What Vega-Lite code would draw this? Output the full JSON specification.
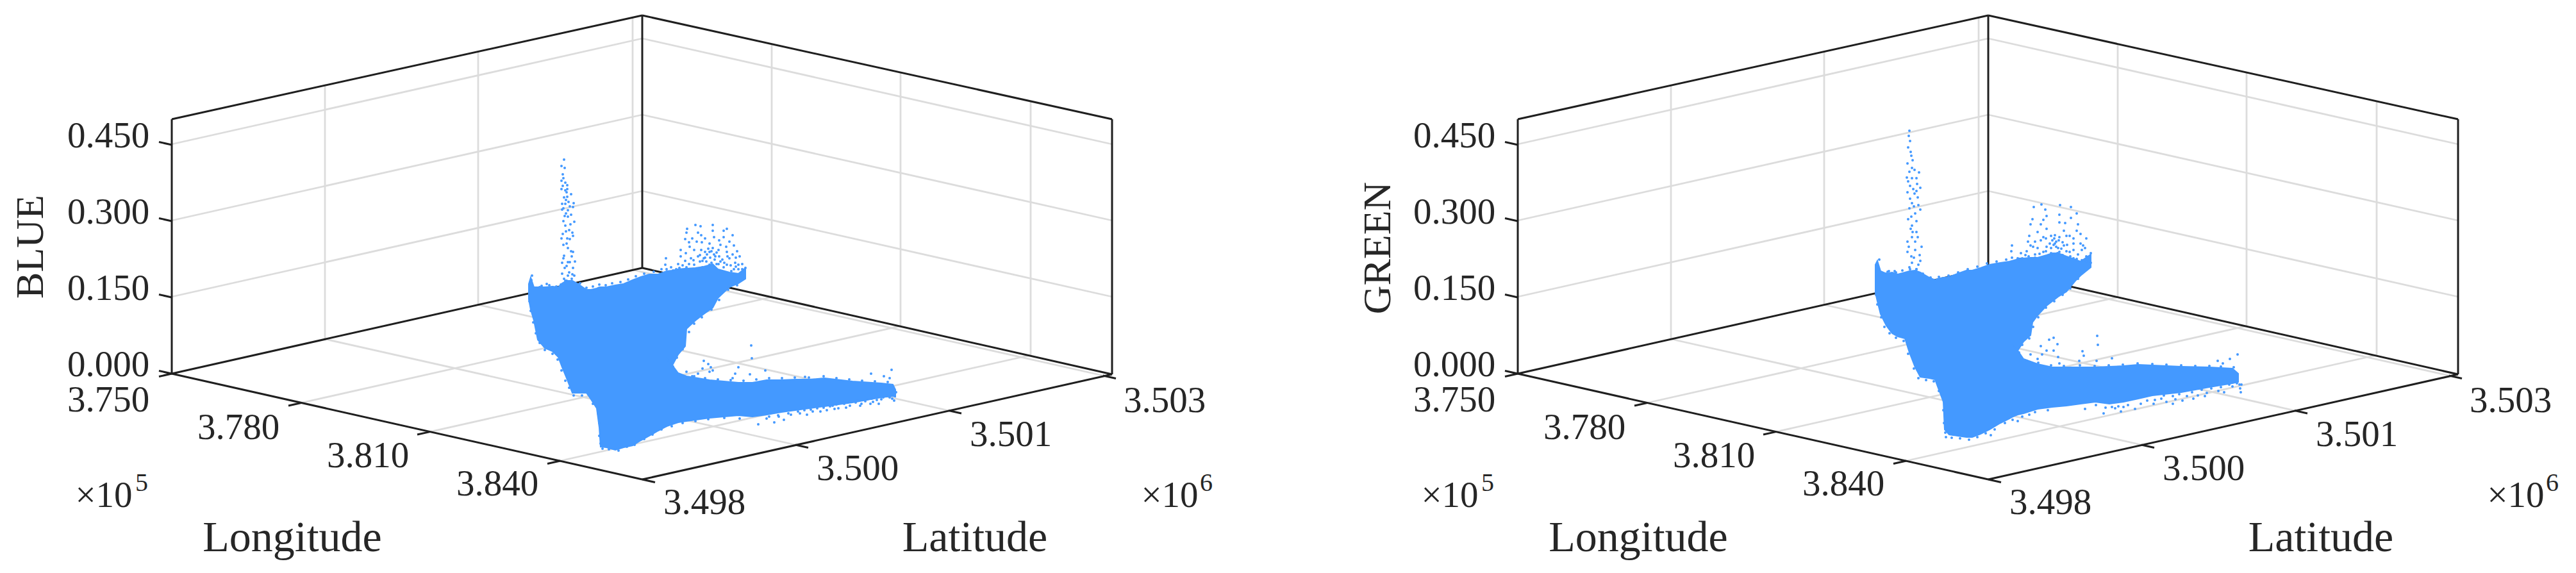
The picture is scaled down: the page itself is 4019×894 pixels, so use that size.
{
"$schema":"https://vega.github.io/schema/vega-lite/v6.json",
"background":"white","padding":0,"spacing":0,"autosize":{"type":"pad"},
"config":{"view":{"stroke":null},"concat":{"spacing":0}},
"datasets":{
"grid":[
{"u":268,"v":225,"u2":1002,"v2":60},{"u":268,"v":344,"u2":1002,"v2":179},{"u":268,"v":463,"u2":1002,"v2":298},
{"u":1002,"v":60,"u2":1735,"v2":225},{"u":1002,"v":179,"u2":1735,"v2":344},{"u":1002,"v":298,"u2":1735,"v2":463},
{"u":507,"v":133,"u2":507,"v2":529},{"u":746,"v":80,"u2":746,"v2":475.5},{"u":987,"v":27,"u2":987,"v2":421},
{"u":1204,"v":69,"u2":1204,"v2":463.5},{"u":1405,"v":114,"u2":1405,"v2":508.6},{"u":1608,"v":158,"u2":1608,"v2":554},
{"u":507,"v":529,"u2":1241,"v2":694},{"u":746,"v":475.5,"u2":1480,"v2":640.5},{"u":987,"v":421,"u2":1721,"v2":586},
{"u":1204,"v":463.5,"u2":470,"v2":628.5},{"u":1405,"v":508.6,"u2":671,"v2":673.6},{"u":1608,"v":554,"u2":874,"v2":719}
],
"frame":[
{"u":268,"v":186,"u2":268,"v2":583},{"u":268,"v":186,"u2":1002,"v2":24},{"u":1002,"v":24,"u2":1735,"v2":186},
{"u":1735,"v":186,"u2":1735,"v2":584},{"u":268,"v":583,"u2":1002,"v2":418},{"u":1002,"v":418,"u2":1735,"v2":584},
{"u":268,"v":583,"u2":1002,"v2":748},{"u":1002,"v":748,"u2":1735,"v2":584},{"u":1002,"v":24,"u2":1002,"v2":418},
{"u":268,"v":226,"u2":248,"v2":221.5},{"u":268,"v":345,"u2":248,"v2":340.5},{"u":268,"v":464,"u2":248,"v2":459.5},{"u":268,"v":583,"u2":248,"v2":578.5},
{"u":268,"v":583,"u2":248,"v2":587.5},{"u":470,"v":628.5,"u2":450,"v2":633},{"u":671,"v":673.6,"u2":651,"v2":678},{"u":874,"v":719,"u2":854,"v2":723.5},
{"u":1002,"v":748,"u2":1022,"v2":752.5},{"u":1241,"v":694,"u2":1261,"v2":698.5},{"u":1480,"v":640.5,"u2":1500,"v2":645},{"u":1721,"v":586,"u2":1741,"v2":590.5}
],
"ticklabels":[
{"t":"0.450","u":169,"v":213},{"t":"0.300","u":169,"v":332},{"t":"0.150","u":169,"v":451},{"t":"0.000","u":169,"v":570},
{"t":"3.750","u":169,"v":625},{"t":"3.780","u":372,"v":668},{"t":"3.810","u":574,"v":712},{"t":"3.840","u":776,"v":756},
{"t":"3.498","u":1099,"v":785},{"t":"3.500","u":1338,"v":732},{"t":"3.501","u":1577,"v":679},{"t":"3.503","u":1817,"v":626},
{"t":"×10","u":162,"v":774},{"t":"×10","u":1825,"v":774}
],
"exponents":[{"t":"5","u":221,"v":754},{"t":"6","u":1882,"v":754}],
"names":[{"t":"Longitude","u":456,"v":840},{"t":"Latitude","u":1521,"v":840}],
"mass_blue":[
{"part":"lobe","u":825,"top":443,"bottom":467},{"part":"lobe","u":828,"top":433,"bottom":483},{"part":"lobe","u":833,"top":448,"bottom":500},{"part":"lobe","u":839,"top":448,"bottom":530},{"part":"lobe","u":850,"top":448,"bottom":543},{"part":"lobe","u":862,"top":447,"bottom":548},{"part":"lobe","u":871,"top":448,"bottom":557},{"part":"lobe","u":877,"top":442,"bottom":573},{"part":"lobe","u":884,"top":438,"bottom":590},{"part":"lobe","u":893,"top":438,"bottom":613},{"part":"lobe","u":902,"top":443,"bottom":613},{"part":"lobe","u":915,"top":452,"bottom":613},{"part":"lobe","u":922,"top":452,"bottom":623},{"part":"lobe","u":931,"top":450,"bottom":637},{"part":"lobe","u":935,"top":448,"bottom":667},{"part":"lobe","u":937,"top":448,"bottom":697},{"part":"lobe","u":946,"top":448,"bottom":698},{"part":"lobe","u":960,"top":445,"bottom":702},{"part":"lobe","u":973,"top":443,"bottom":698},{"part":"lobe","u":987,"top":437,"bottom":695},{"part":"lobe","u":1000,"top":432,"bottom":687},{"part":"lobe","u":1013,"top":428,"bottom":680},{"part":"lobe","u":1027,"top":428,"bottom":672},{"part":"lobe","u":1040,"top":423,"bottom":665},{"part":"lobe","u":1049,"top":422,"bottom":570},{"part":"lobe","u":1058,"top":420,"bottom":553},{"part":"lobe","u":1069,"top":419,"bottom":540},{"part":"lobe","u":1071,"top":419,"bottom":513},{"part":"lobe","u":1085,"top":418,"bottom":500},{"part":"lobe","u":1098,"top":416,"bottom":490},{"part":"lobe","u":1112,"top":412,"bottom":480},{"part":"lobe","u":1120,"top":420,"bottom":465},{"part":"lobe","u":1138,"top":425,"bottom":448},{"part":"lobe","u":1152,"top":427,"bottom":442},{"part":"lobe","u":1163,"top":418,"bottom":435},
{"part":"wing","u":1040,"top":560,"bottom":665},{"part":"wing","u":1049,"top":570,"bottom":662},{"part":"wing","u":1058,"top":582,"bottom":659},{"part":"wing","u":1071,"top":587,"bottom":657},{"part":"wing","u":1107,"top":593,"bottom":652},{"part":"wing","u":1152,"top":597,"bottom":648},{"part":"wing","u":1174,"top":597,"bottom":650},{"part":"wing","u":1196,"top":593,"bottom":647},{"part":"wing","u":1219,"top":593,"bottom":643},{"part":"wing","u":1241,"top":592,"bottom":640},{"part":"wing","u":1263,"top":592,"bottom":637},{"part":"wing","u":1286,"top":590,"bottom":634},{"part":"wing","u":1330,"top":595,"bottom":628},{"part":"wing","u":1375,"top":598,"bottom":620},{"part":"wing","u":1393,"top":600,"bottom":618},{"part":"wing","u":1397,"top":608,"bottom":619}
],
"mass_green":[
{"part":"lobe","u":826,"top":413,"bottom":457},{"part":"lobe","u":829,"top":407,"bottom":470},{"part":"lobe","u":834,"top":423,"bottom":490},{"part":"lobe","u":843,"top":427,"bottom":508},{"part":"lobe","u":852,"top":425,"bottom":520},{"part":"lobe","u":861,"top":428,"bottom":525},{"part":"lobe","u":872,"top":425,"bottom":528},{"part":"lobe","u":879,"top":423,"bottom":550},{"part":"lobe","u":888,"top":422,"bottom":573},{"part":"lobe","u":896,"top":425,"bottom":588},{"part":"lobe","u":910,"top":433,"bottom":590},{"part":"lobe","u":919,"top":437,"bottom":592},{"part":"lobe","u":923,"top":435,"bottom":603},{"part":"lobe","u":932,"top":433,"bottom":627},{"part":"lobe","u":934,"top":433,"bottom":670},{"part":"lobe","u":941,"top":432,"bottom":678},{"part":"lobe","u":954,"top":427,"bottom":680},{"part":"lobe","u":968,"top":422,"bottom":682},{"part":"lobe","u":977,"top":422,"bottom":682},{"part":"lobe","u":990,"top":418,"bottom":677},{"part":"lobe","u":1004,"top":413,"bottom":670},{"part":"lobe","u":1021,"top":410,"bottom":660},{"part":"lobe","u":1035,"top":408,"bottom":653},{"part":"lobe","u":1046,"top":405,"bottom":647},{"part":"lobe","u":1048,"top":403,"bottom":547},{"part":"lobe","u":1057,"top":403,"bottom":533},{"part":"lobe","u":1068,"top":402,"bottom":523},{"part":"lobe","u":1071,"top":402,"bottom":503},{"part":"lobe","u":1079,"top":402,"bottom":492},{"part":"lobe","u":1093,"top":398,"bottom":477},{"part":"lobe","u":1102,"top":395,"bottom":470},{"part":"lobe","u":1111,"top":395,"bottom":463},{"part":"lobe","u":1124,"top":400,"bottom":455},{"part":"lobe","u":1138,"top":405,"bottom":438},{"part":"lobe","u":1146,"top":408,"bottom":430},{"part":"lobe","u":1162,"top":397,"bottom":417},
{"part":"wing","u":1040,"top":540,"bottom":650},{"part":"wing","u":1048,"top":547,"bottom":647},{"part":"wing","u":1057,"top":560,"bottom":645},{"part":"wing","u":1079,"top":568,"bottom":638},{"part":"wing","u":1102,"top":573,"bottom":635},{"part":"wing","u":1124,"top":573,"bottom":633},{"part":"wing","u":1146,"top":573,"bottom":630},{"part":"wing","u":1169,"top":573,"bottom":627},{"part":"wing","u":1191,"top":572,"bottom":630},{"part":"wing","u":1213,"top":571,"bottom":627},{"part":"wing","u":1236,"top":569,"bottom":622},{"part":"wing","u":1258,"top":570,"bottom":617},{"part":"wing","u":1303,"top":572,"bottom":612},{"part":"wing","u":1347,"top":573,"bottom":604},{"part":"wing","u":1383,"top":575,"bottom":598},{"part":"wing","u":1392,"top":583,"bottom":596}
],
"dots_blue":[
{"u":880,"v":249},{"u":876,"v":259},{"u":881,"v":262},{"u":878,"v":272},{"u":879,"v":278},{"u":876,"v":282},{"u":882,"v":285},{"u":885,"v":289},{"u":876,"v":295},{"u":882,"v":297},{"u":885,"v":295},{"u":891,"v":303},{"u":885,"v":307},{"u":883,"v":312},{"u":877,"v":318},{"u":882,"v":318},{"u":887,"v":315},{"u":895,"v":317},{"u":879,"v":325},{"u":877,"v":327},{"u":894,"v":323},{"u":883,"v":333},{"u":881,"v":337},{"u":891,"v":335},{"u":886,"v":338},{"u":896,"v":346},{"u":882,"v":352},{"u":888,"v":359},{"u":883,"v":361},{"u":893,"v":363},{"u":894,"v":368},{"u":885,"v":372},{"u":876,"v":372},{"u":889,"v":373},{"u":879,"v":382},{"u":886,"v":387},{"u":891,"v":392},{"u":894,"v":393},{"u":880,"v":399},{"u":879,"v":403},{"u":877,"v":410},{"u":886,"v":409},{"u":889,"v":409},{"u":897,"v":408},{"u":884,"v":415},{"u":894,"v":418},{"u":877,"v":427},{"u":886,"v":430},{"u":896,"v":430},{"u":892,"v":435},{"u":884,"v":438},
{"u":878,"v":290},{"u":884,"v":300},{"u":880,"v":308},{"u":889,"v":322},{"u":886,"v":328},{"u":879,"v":345},{"u":890,"v":350},{"u":884,"v":380},{"u":892,"v":400},{"u":881,"v":418},{"u":888,"v":425},{"u":880,"v":435},{"u":893,"v":428},{"u":878,"v":365},
{"u":1085,"v":351},{"u":1072,"v":357},{"u":1093,"v":353},{"u":1112,"v":351},{"u":1134,"v":357},{"u":1129,"v":360},{"u":1143,"v":367},{"u":1089,"v":363},{"u":1094,"v":367},{"u":1071,"v":363},{"u":1069,"v":373},{"u":1080,"v":372},{"u":1087,"v":377},{"u":1112,"v":360},{"u":1114,"v":370},{"u":1124,"v":382},{"u":1129,"v":370},{"u":1138,"v":377},{"u":1145,"v":383},{"u":1062,"v":390},{"u":1076,"v":385},{"u":1083,"v":390},{"u":1094,"v":390},{"u":1107,"v":380},{"u":1112,"v":387},{"u":1121,"v":390},{"u":1134,"v":393},{"u":1143,"v":397},{"u":1154,"v":400},{"u":1039,"v":403},{"u":1038,"v":413},{"u":1062,"v":400},{"u":1069,"v":407},{"u":1078,"v":403},{"u":1089,"v":400},{"u":1098,"v":403},{"u":1116,"v":400},{"u":1127,"v":405},{"u":1138,"v":403},{"u":1147,"v":410},{"u":1152,"v":413},{"u":1058,"v":412},{"u":1071,"v":417},{"u":1083,"v":413},{"u":1096,"v":417},{"u":1107,"v":413},{"u":1121,"v":412},{"u":1134,"v":413},{"u":1145,"v":420},{"u":1158,"v":420},{"u":1040,"v":420},{"u":1047,"v":417},{"u":1163,"v":418},{"u":1156,"v":427},{"u":1103,"v":397},{"u":1107,"v":393},{"u":1114,"v":397},{"u":1096,"v":407},{"u":1129,"v":417},{"u":1141,"v":423},{"u":1125,"v":423},{"u":1089,"v":420},
{"u":1092,"v":398},{"u":1100,"v":393},{"u":1105,"v":388},{"u":1110,"v":392},{"u":1118,"v":394},{"u":1122,"v":400},{"u":1100,"v":402},{"u":1108,"v":402},{"u":1115,"v":405},{"u":1124,"v":408},{"u":1092,"v":408},{"u":1102,"v":408},{"u":1110,"v":410},{"u":1118,"v":412},{"u":1130,"v":410},{"u":1140,"v":414},{"u":1148,"v":416},{"u":1152,"v":420},{"u":1060,"v":418},{"u":1065,"v":414},{"u":1075,"v":412},{"u":1082,"v":406},{"u":1055,"v":420},{"u":1050,"v":422},{"u":1135,"v":400},{"u":1148,"v":402},{"u":1158,"v":412},{"u":1070,"v":395},{"u":1075,"v":378},{"u":1100,"v":372},{"u":1122,"v":375},{"u":1133,"v":385},{"u":1095,"v":378},{"u":1150,"v":392},
{"u":830,"v":430},{"u":829,"v":437},{"u":828,"v":440},{"u":842,"v":448},{"u":853,"v":443},{"u":868,"v":447},{"u":882,"v":438},
{"u":845,"v":446},{"u":857,"v":445},{"u":875,"v":444},{"u":905,"v":442},{"u":915,"v":449},{"u":925,"v":447},{"u":935,"v":444},{"u":945,"v":445},{"u":955,"v":442},{"u":968,"v":440},{"u":980,"v":436},{"u":992,"v":431},{"u":1005,"v":427},{"u":1020,"v":424},{"u":1032,"v":420},
{"u":826,"v":470},{"u":828,"v":485},{"u":832,"v":503},{"u":836,"v":520},{"u":842,"v":535},{"u":850,"v":546},{"u":862,"v":552},{"u":870,"v":561},{"u":876,"v":578},{"u":882,"v":594},{"u":888,"v":605},{"u":895,"v":617},{"u":908,"v":617},{"u":925,"v":630},{"u":933,"v":645},{"u":935,"v":660},{"u":935,"v":680},{"u":937,"v":692},
{"u":1075,"v":518},{"u":1083,"v":505},{"u":1095,"v":495},{"u":1110,"v":483},{"u":1122,"v":468},{"u":1136,"v":452},{"u":1150,"v":445},{"u":1065,"v":545},{"u":1056,"v":558},{"u":1050,"v":572},
{"u":1172,"v":539},{"u":1173,"v":559},{"u":1098,"v":563},{"u":1105,"v":568},{"u":1109,"v":573},{"u":1112,"v":578},{"u":1096,"v":575},{"u":1152,"v":573},{"u":1147,"v":583},{"u":1143,"v":590},{"u":1089,"v":583},{"u":1083,"v":587},{"u":1194,"v":578},{"u":1170,"v":584},{"u":1107,"v":580},{"u":1256,"v":588},{"u":1359,"v":583},{"u":1379,"v":587},{"u":1391,"v":577},{"u":1388,"v":590},{"u":1071,"v":580},
{"u":1062,"v":585},{"u":1080,"v":587},{"u":1100,"v":590},{"u":1120,"v":592},{"u":1140,"v":593},{"u":1160,"v":594},{"u":1180,"v":592},{"u":1200,"v":590},{"u":1220,"v":590},{"u":1240,"v":589},{"u":1262,"v":589},{"u":1285,"v":587},{"u":1305,"v":590},{"u":1325,"v":592},{"u":1345,"v":594},{"u":1365,"v":595},{"u":1385,"v":596},
{"u":1259,"v":647},{"u":1277,"v":630},{"u":1290,"v":640},{"u":1308,"v":637},{"u":1326,"v":633},{"u":1344,"v":630},{"u":1362,"v":627},{"u":1371,"v":630},{"u":1395,"v":625},{"u":1183,"v":662},{"u":1208,"v":659},{"u":1223,"v":655},{"u":1234,"v":647},{"u":1248,"v":645},{"u":1268,"v":642},{"u":1299,"v":633},{"u":1317,"v":630},{"u":1335,"v":628},{"u":1353,"v":623},{"u":1375,"v":623},{"u":1384,"v":617},{"u":1214,"v":648},{"u":1196,"v":653},{"u":1154,"v":653},
{"u":1200,"v":650},{"u":1215,"v":650},{"u":1230,"v":645},{"u":1245,"v":642},{"u":1255,"v":640},{"u":1265,"v":639},{"u":1275,"v":637},{"u":1285,"v":636},{"u":1295,"v":634},{"u":1305,"v":631},{"u":1315,"v":628},{"u":1325,"v":627},{"u":1338,"v":625},{"u":1350,"v":626},{"u":1360,"v":622},{"u":1368,"v":624},{"u":1378,"v":620},{"u":1388,"v":620},{"u":1396,"v":618},{"u":1398,"v":612},{"u":1392,"v":622},{"u":1280,"v":642},{"u":1302,"v":638},{"u":1320,"v":636},{"u":1342,"v":633},{"u":1358,"v":630},
{"u":940,"v":700},{"u":950,"v":701},{"u":965,"v":703},{"u":978,"v":697},{"u":990,"v":694},{"u":1005,"v":685},{"u":1018,"v":678},{"u":1032,"v":670},{"u":1048,"v":665},{"u":1065,"v":660},{"u":1085,"v":657},{"u":1105,"v":654},{"u":1130,"v":652}
],
"dots_green":[
{"u":879,"v":204},{"u":880,"v":220},{"u":877,"v":230},{"u":881,"v":237},{"u":882,"v":243},{"u":876,"v":255},{"u":883,"v":262},{"u":879,"v":268},{"u":894,"v":269},{"u":875,"v":277},{"u":883,"v":278},{"u":890,"v":278},{"u":877,"v":283},{"u":891,"v":287},{"u":896,"v":293},{"u":876,"v":300},{"u":887,"v":302},{"u":892,"v":308},{"u":883,"v":317},{"u":879,"v":325},{"u":896,"v":327},{"u":888,"v":333},{"u":877,"v":342},{"u":883,"v":352},{"u":881,"v":357},{"u":890,"v":362},{"u":883,"v":370},{"u":876,"v":377},{"u":888,"v":377},{"u":898,"v":385},{"u":888,"v":390},{"u":876,"v":393},{"u":895,"v":398},{"u":883,"v":410},{"u":896,"v":407},{"u":879,"v":417},{"u":890,"v":420},
{"u":878,"v":212},{"u":884,"v":250},{"u":887,"v":265},{"u":880,"v":290},{"u":885,"v":295},{"u":890,"v":298},{"u":880,"v":310},{"u":886,"v":322},{"u":893,"v":320},{"u":882,"v":338},{"u":890,"v":345},{"u":884,"v":362},{"u":878,"v":385},{"u":892,"v":370},{"u":886,"v":402},{"u":893,"v":413},{"u":882,"v":400},{"u":887,"v":425},
{"u":1085,"v":319},{"u":1091,"v":327},{"u":1114,"v":320},{"u":1131,"v":323},{"u":1073,"v":323},{"u":1140,"v":333},{"u":1093,"v":337},{"u":1113,"v":335},{"u":1071,"v":342},{"u":1088,"v":343},{"u":1122,"v":348},{"u":1131,"v":340},{"u":1142,"v":350},{"u":1084,"v":350},{"u":1113,"v":347},{"u":1068,"v":350},{"u":1066,"v":368},{"u":1079,"v":362},{"u":1093,"v":357},{"u":1106,"v":367},{"u":1120,"v":360},{"u":1140,"v":360},{"u":1146,"v":365},{"u":1155,"v":372},{"u":1064,"v":377},{"u":1075,"v":377},{"u":1088,"v":370},{"u":1102,"v":375},{"u":1113,"v":370},{"u":1129,"v":368},{"u":1146,"v":380},{"u":1153,"v":387},{"u":1039,"v":383},{"u":1038,"v":392},{"u":1068,"v":383},{"u":1079,"v":387},{"u":1093,"v":385},{"u":1106,"v":380},{"u":1120,"v":383},{"u":1135,"v":380},{"u":1162,"v":395},{"u":1039,"v":402},{"u":1053,"v":395},{"u":1062,"v":392},{"u":1075,"v":397},{"u":1088,"v":393},{"u":1100,"v":387},{"u":1113,"v":393},{"u":1129,"v":393},{"u":1142,"v":397},{"u":1155,"v":400},{"u":1048,"v":403},{"u":1071,"v":403},{"u":1084,"v":402},{"u":1104,"v":398},{"u":1122,"v":402},{"u":1135,"v":403},{"u":1151,"v":407},{"u":1162,"v":410},{"u":1108,"v":377},{"u":1104,"v":382},{"u":1111,"v":387},
{"u":1092,"v":372},{"u":1100,"v":368},{"u":1105,"v":372},{"u":1112,"v":375},{"u":1118,"v":378},{"u":1125,"v":382},{"u":1098,"v":380},{"u":1108,"v":385},{"u":1116,"v":388},{"u":1124,"v":392},{"u":1092,"v":392},{"u":1100,"v":395},{"u":1110,"v":395},{"u":1118,"v":398},{"u":1130,"v":400},{"u":1140,"v":404},{"u":1148,"v":406},{"u":1155,"v":408},{"u":1060,"v":398},{"u":1065,"v":400},{"u":1075,"v":402},{"u":1082,"v":396},{"u":1055,"v":403},{"u":1050,"v":408},{"u":1135,"v":390},{"u":1148,"v":390},{"u":1158,"v":402},{"u":1072,"v":385},{"u":1084,"v":375},{"u":1124,"v":368},{"u":1135,"v":372},{"u":1150,"v":383},
{"u":832,"v":405},{"u":829,"v":413},{"u":843,"v":427},{"u":847,"v":423},{"u":856,"v":423},
{"u":845,"v":424},{"u":858,"v":425},{"u":868,"v":422},{"u":880,"v":420},{"u":890,"v":420},{"u":900,"v":427},{"u":912,"v":433},{"u":925,"v":432},{"u":940,"v":430},{"u":955,"v":425},{"u":970,"v":420},{"u":985,"v":416},{"u":1000,"v":411},{"u":1015,"v":408},{"u":1030,"v":405},
{"u":827,"v":460},{"u":829,"v":475},{"u":835,"v":495},{"u":840,"v":510},{"u":848,"v":520},{"u":858,"v":527},{"u":870,"v":532},{"u":877,"v":552},{"u":886,"v":575},{"u":893,"v":590},{"u":905,"v":593},{"u":917,"v":595},{"u":925,"v":610},{"u":932,"v":640},{"u":933,"v":660},{"u":935,"v":675},
{"u":1072,"v":510},{"u":1080,"v":495},{"u":1092,"v":480},{"u":1105,"v":470},{"u":1118,"v":460},{"u":1130,"v":450},{"u":1142,"v":435},{"u":1066,"v":528},{"u":1055,"v":538},{"u":1050,"v":550},
{"u":1172,"v":524},{"u":1173,"v":538},{"u":1104,"v":527},{"u":1097,"v":530},{"u":1110,"v":537},{"u":1084,"v":540},{"u":1104,"v":547},{"u":1093,"v":547},{"u":1086,"v":553},{"u":1068,"v":553},{"u":1079,"v":560},{"u":1111,"v":557},{"u":1149,"v":548},{"u":1151,"v":555},{"u":1144,"v":563},{"u":1195,"v":559},{"u":1171,"v":563},{"u":1391,"v":553},{"u":1379,"v":560},{"u":1360,"v":563},{"u":1368,"v":567},{"u":1113,"v":567},
{"u":1062,"v":563},{"u":1080,"v":566},{"u":1100,"v":570},{"u":1120,"v":571},{"u":1145,"v":570},{"u":1168,"v":571},{"u":1190,"v":570},{"u":1212,"v":569},{"u":1235,"v":567},{"u":1258,"v":568},{"u":1280,"v":569},{"u":1303,"v":570},{"u":1325,"v":571},{"u":1347,"v":571},{"u":1365,"v":572},{"u":1385,"v":573},
{"u":1182,"v":645},{"u":1209,"v":642},{"u":1231,"v":638},{"u":1213,"v":635},{"u":1200,"v":637},{"u":1260,"v":630},{"u":1280,"v":627},{"u":1294,"v":623},{"u":1276,"v":617},{"u":1312,"v":618},{"u":1329,"v":617},{"u":1343,"v":613},{"u":1361,"v":610},{"u":1370,"v":612},{"u":1383,"v":603},{"u":1396,"v":612},{"u":1394,"v":600},{"u":1153,"v":638},{"u":1066,"v":647},{"u":1048,"v":657},{"u":1006,"v":679},
{"u":1170,"v":632},{"u":1185,"v":636},{"u":1195,"v":635},{"u":1205,"v":634},{"u":1220,"v":632},{"u":1240,"v":630},{"u":1250,"v":625},{"u":1262,"v":624},{"u":1272,"v":622},{"u":1290,"v":618},{"u":1300,"v":615},{"u":1320,"v":612},{"u":1335,"v":608},{"u":1350,"v":606},{"u":1365,"v":604},{"u":1378,"v":600},{"u":1390,"v":598},{"u":1397,"v":600},{"u":1395,"v":606},{"u":1290,"v":630},{"u":1305,"v":625},{"u":1322,"v":622},{"u":1340,"v":618},
{"u":936,"v":682},{"u":945,"v":683},{"u":958,"v":684},{"u":972,"v":686},{"u":985,"v":682},{"u":998,"v":676},{"u":1012,"v":670},{"u":1028,"v":660},{"u":1040,"v":655},{"u":1055,"v":650},{"u":1075,"v":643},{"u":1095,"v":640}
]
},
"hconcat":[
{"width":2100,"height":894,
"encoding":{
"x":{"field":"u","type":"quantitative","axis":null,"scale":{"domain":[0,2100],"nice":false,"zero":false}},
"y":{"field":"v","type":"quantitative","axis":null,"scale":{"domain":[894,0],"nice":false,"zero":false}}},
"layer":[
{"data":{"name":"grid"},"mark":{"type":"rule","color":"#dcdcdc","strokeWidth":2.8},"encoding":{"x2":{"field":"u2"},"y2":{"field":"v2"}}},
{"data":{"name":"frame"},"mark":{"type":"rule","color":"#1f1f1f","strokeWidth":3},"encoding":{"x2":{"field":"u2"},"y2":{"field":"v2"}}},
{"data":{"name":"mass_blue"},"mark":{"type":"area","color":"#4499ff","stroke":"#4499ff","strokeWidth":2},"encoding":{"y":{"field":"top","type":"quantitative","stack":null,"axis":null,"scale":{"domain":[894,0],"nice":false,"zero":false}},"y2":{"field":"bottom"},"detail":{"field":"part"}}},
{"data":{"name":"dots_blue"},"mark":{"type":"point","filled":true,"opacity":1,"color":"#4499ff","size":16}},
{"data":{"name":"ticklabels"},"mark":{"type":"text","font":"Liberation Serif","fontSize":57,"color":"#262626","baseline":"middle"},"encoding":{"text":{"field":"t"}}},
{"data":{"name":"exponents"},"mark":{"type":"text","font":"Liberation Serif","fontSize":40,"color":"#262626","baseline":"middle"},"encoding":{"text":{"field":"t"}}},
{"data":{"name":"names"},"mark":{"type":"text","font":"Liberation Serif","fontSize":68,"color":"#262626","baseline":"middle"},"encoding":{"text":{"field":"t"}}},
{"data":{"values":[{"t":"BLUE","u":48,"v":385}]},"mark":{"type":"text","font":"Liberation Serif","fontSize":62,"color":"#262626","baseline":"middle","angle":270},"encoding":{"text":{"field":"t"}}}
]},
{"width":1919,"height":894,
"encoding":{
"x":{"field":"u","type":"quantitative","axis":null,"scale":{"domain":[0,1919],"nice":false,"zero":false}},
"y":{"field":"v","type":"quantitative","axis":null,"scale":{"domain":[894,0],"nice":false,"zero":false}}},
"layer":[
{"data":{"name":"grid"},"mark":{"type":"rule","color":"#dcdcdc","strokeWidth":2.8},"encoding":{"x2":{"field":"u2"},"y2":{"field":"v2"}}},
{"data":{"name":"frame"},"mark":{"type":"rule","color":"#1f1f1f","strokeWidth":3},"encoding":{"x2":{"field":"u2"},"y2":{"field":"v2"}}},
{"data":{"name":"mass_green"},"mark":{"type":"area","color":"#4499ff","stroke":"#4499ff","strokeWidth":2},"encoding":{"y":{"field":"top","type":"quantitative","stack":null,"axis":null,"scale":{"domain":[894,0],"nice":false,"zero":false}},"y2":{"field":"bottom"},"detail":{"field":"part"}}},
{"data":{"name":"dots_green"},"mark":{"type":"point","filled":true,"opacity":1,"color":"#4499ff","size":16}},
{"data":{"name":"ticklabels"},"mark":{"type":"text","font":"Liberation Serif","fontSize":57,"color":"#262626","baseline":"middle"},"encoding":{"text":{"field":"t"}}},
{"data":{"name":"exponents"},"mark":{"type":"text","font":"Liberation Serif","fontSize":40,"color":"#262626","baseline":"middle"},"encoding":{"text":{"field":"t"}}},
{"data":{"name":"names"},"mark":{"type":"text","font":"Liberation Serif","fontSize":68,"color":"#262626","baseline":"middle"},"encoding":{"text":{"field":"t"}}},
{"data":{"values":[{"t":"GREEN","u":50,"v":387}]},"mark":{"type":"text","font":"Liberation Serif","fontSize":62,"color":"#262626","baseline":"middle","angle":270},"encoding":{"text":{"field":"t"}}}
]}
]
}
